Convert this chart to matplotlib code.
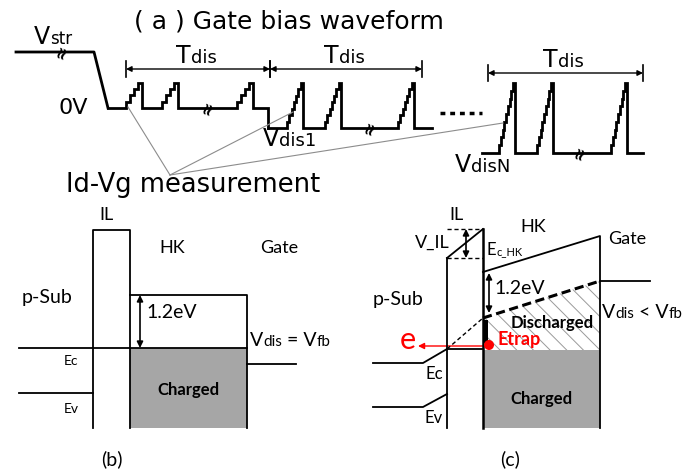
import numpy as np
import matplotlib.pyplot as plt
from matplotlib.patches import Polygon, Rectangle, FancyArrowPatch, Circle

# ---- waveform (a), pixel-space schematic units ----
stress_level = 52
peak_level = 83
group_levels = [108, 128, 153]          # 0V, Vdis1, VdisN
group_spans = [(108, 268), (268, 432), (482, 643)]
pulse_starts = [[126, 162, 237], [287, 325, 398], [499, 537, 611]]
ramp_steps = [4, 7, 9]
break_marks = [(62, 52), (208, 108), (370, 128), (580, 153)]
tdis_spans = [(126, 270, 69), (270, 422, 69), (488, 643, 73)]
meas_targets = [(128, 107), (293, 112), (503, 123)]

# ---- band diagrams (b), (c) ----
bottom = 428
b_il = (93, 130, 230)                   # left, right, top
b_hk = (130, 247, 295)
b_ec, b_ev, b_gate = 348, 393, 364
c_il = (447, 483)
c_il_top = (258, 229)                   # IL top edge left/right
c_hk_top = ((483, 272), (600, 236))
c_trap_line = ((483, 318), (600, 281))
c_ec = [(373, 363), (423, 363), (447, 349), (483, 349)]
c_ev = [(373, 407), (423, 407), (447, 394)]
c_charged_top = 350

KA = dict(family='DejaVu Sans', color='black')
KB = dict(family='Lato', color='black')

fig = plt.figure(figsize=(6.94, 4.69), dpi=100)
ax = fig.add_axes([0, 0, 1, 1])
ax.set_xlim(0, 694)
ax.set_ylim(469, 0)
ax.axis('off')


def chain(x, y, parts, **kw):
    # draws text pieces of different sizes one after another on a baseline
    prev = None
    for s, fs in parts:
        if prev is None:
            prev = ax.text(x, y, s, fontsize=fs, ha='left', va='baseline', **kw)
        else:
            prev = ax.annotate(s, xy=(1, y), xycoords=(prev, 'data'), fontsize=fs,
                               ha='left', va='baseline', **kw)
    return prev


def staircase(x0, y0, x1, y1, n):
    xs, ys = [x0], [y0]
    dx = (x1 - x0) / n
    dy = (y1 - y0) / n
    for i in range(n):
        xs += [x0 + dx * i, x0 + dx * (i + 1)]
        ys += [y0 + dy * (i + 1), y0 + dy * (i + 1)]
    return xs, ys


# ---------- (a) gate bias waveform ----------
ax.text(289, 22, '( a ) Gate bias waveform', fontsize=18, ha='center', va='center', **KA)

lw_a = 2.0
ax.plot([16, 94, 108], [stress_level, stress_level, group_levels[0]], color='black', lw=lw_a)
pw = 16
for gi, (lev, (xs, xe), starts, n) in enumerate(zip(group_levels, group_spans, pulse_starts, ramp_steps)):
    px, py = [xs], [lev]
    for s in starts:
        sx, sy = staircase(s, lev, s + pw, peak_level, n)
        px += sx
        py += sy
        px.append(s + pw)
        py.append(lev)
    px.append(xe)
    py.append(lev)
    if gi == 0:
        px += [xe]
        py += [group_levels[1]]
    ax.plot(px, py, color='black', lw=lw_a, solid_joinstyle='miter')

for bx, by in break_marks:
    ax.text(bx, by, '≈', fontsize=12, fontweight='bold', rotation=70,
            ha='center', va='center', **KA)

# continuation dots
ax.plot([440, 482], [113, 113], color='black', lw=2.5, linestyle=(0, (1.4, 1.4)))

for x0, x1, y in tdis_spans:
    ax.add_patch(FancyArrowPatch((x0, y), (x1, y), arrowstyle='<|-|>', mutation_scale=8,
                                 color='black', lw=1.0, shrinkA=0, shrinkB=0))
    for xx in (x0, x1):
        ax.plot([xx, xx], [y - 8, y + 8], color='black', lw=1.2)
    chain((x0 + x1) / 2 - 22, y - 6, [('T', 17), ('dis', 13)], **KA)

ax.text(73, 108, '0V', fontsize=16, ha='center', va='center', **KA)
chain(34, 44, [('V', 17), ('str', 12)], **KA)
chain(263, 146, [('V', 17), ('dis1', 13)], **KA)
chain(455, 172, [('V', 17), ('disN', 13)], **KA)

for tx, ty in meas_targets:
    ax.plot([170, tx], [175, ty], color='#8c8c8c', lw=0.8)
ax.text(193, 185, 'Id-Vg measurement', fontsize=18.5, ha='center', va='center', **KA)

# ---------- (b) charged state ----------
lw_b = 1.3
ax.add_patch(Rectangle((b_hk[0], b_ec), b_hk[1] - b_hk[0], bottom - b_ec,
                       facecolor='#a6a6a6', edgecolor='none'))
ax.plot([b_il[0], b_il[0], b_il[1], b_il[1]], [bottom, b_il[2], b_il[2], bottom], color='black', lw=lw_b)
ax.plot([b_hk[0], b_hk[1], b_hk[1]], [b_hk[2], b_hk[2], bottom], color='black', lw=lw_b)
ax.plot([19, b_hk[1]], [b_ec, b_ec], color='black', lw=lw_b)
ax.plot([19, b_il[0]], [b_ev, b_ev], color='black', lw=lw_b)
ax.plot([b_hk[1], 296], [b_gate, b_gate], color='black', lw=lw_b)
ax.add_patch(FancyArrowPatch((140, b_hk[2]), (140, b_ec), arrowstyle='<|-|>', mutation_scale=9,
                             color='black', lw=1.2, shrinkA=0, shrinkB=0))
ax.text(146, 313, '1.2eV', fontsize=14, ha='left', va='center', **KB)
ax.text(188, 390, 'Charged', fontsize=12, fontweight='bold', ha='center', va='center', **KB)
ax.text(107, 215, 'IL', fontsize=13, ha='center', va='center', **KB)
ax.text(172, 248, 'HK', fontsize=13, ha='center', va='center', **KB)
ax.text(279, 248, 'Gate', fontsize=13, ha='center', va='center', **KB)
ax.text(22, 297, 'p-Sub', fontsize=14, ha='left', va='center', **KB)
ax.text(71, 361, 'Ec', fontsize=10, ha='center', va='center', **KB)
ax.text(71, 409, 'Ev', fontsize=10, ha='center', va='center', **KB)
chain(250, 346, [('V', 14), ('dis', 11), (' = V', 14), ('fb', 11)], **KB)
ax.text(112, 459, '(b)', fontsize=14, ha='center', va='center', **KB)

# ---------- (c) discharging state ----------
hl, hr = c_il
ax.add_patch(Rectangle((hr, c_charged_top), c_hk_top[1][0] - hr, bottom - c_charged_top,
                       facecolor='#a6a6a6', edgecolor='none'))
plt.rcParams['hatch.linewidth'] = 0.7
ax.add_patch(Polygon([c_trap_line[0], c_trap_line[1], (c_trap_line[1][0], c_charged_top),
                      (hr, c_charged_top)], closed=True, facecolor='none',
                     edgecolor='#9a9a9a', lw=0, hatch='\\\\'))
ax.plot([hl, hl], [bottom, c_il_top[0]], color='black', lw=lw_b)
ax.plot([hl, hr], [c_il_top[0], c_il_top[1]], color='black', lw=lw_b)
ax.plot([hr, hr], [c_il_top[1], bottom], color='black', lw=1.8)
ax.plot([hl, hr], [c_il_top[1], c_il_top[1]], color='black', lw=1.0, ls=(0, (3, 2)))
ax.plot([hl, hr], [c_il_top[0], c_il_top[0]], color='black', lw=1.0, ls=(0, (3, 2)))
ax.add_patch(FancyArrowPatch((466, c_il_top[1]), (466, c_il_top[0]), arrowstyle='<|-|>',
                             mutation_scale=9, color='black', lw=1.2, shrinkA=0, shrinkB=0))
(x0, y0), (x1, y1) = c_hk_top
ax.plot([x0, x1, x1], [y0, y1, bottom], color='black', lw=lw_b)
ax.plot([x1, 650], [281, 281], color='black', lw=lw_b)
ax.plot([p[0] for p in c_ec[:3]], [p[1] for p in c_ec[:3]], color='black', lw=lw_b)
ax.plot([c_ec[2][0], c_ec[3][0]], [c_ec[2][1], c_ec[3][1]], color='black', lw=lw_b)
ax.plot([p[0] for p in c_ev], [p[1] for p in c_ev], color='black', lw=lw_b)
ax.plot([c_ec[2][0], c_trap_line[0][0]], [c_ec[2][1], c_trap_line[0][1]],
        color='black', lw=1.0, ls=(0, (3, 2)))
ax.plot([c_trap_line[0][0], c_trap_line[1][0]], [c_trap_line[0][1], c_trap_line[1][1]],
        color='black', lw=2.2, ls=(0, (3, 1.5)))
ax.add_patch(FancyArrowPatch((489, 273), (489, 313), arrowstyle='<|-|>', mutation_scale=9,
                             color='black', lw=1.2, shrinkA=0, shrinkB=0))
ax.add_patch(Rectangle((484, 320), 4, 23, facecolor='black', edgecolor='none'))
ax.add_patch(FancyArrowPatch((489, 346), (418, 346), arrowstyle='-|>', mutation_scale=9,
                             color='red', lw=1.0, shrinkA=0, shrinkB=0))
ax.add_patch(Circle((489, 345), 5, facecolor='red', edgecolor='none', zorder=5))
ax.text(408, 340, 'e', fontsize=22, color='red', family='Lato', ha='center', va='center')
ax.text(498, 340, 'Etrap', fontsize=13, fontweight='bold', color='red', family='Lato',
        ha='left', va='center')
ax.text(552, 323, 'Discharged', fontsize=12, fontweight='bold', ha='center', va='center', **KB)
ax.text(541, 399, 'Charged', fontsize=12, fontweight='bold', ha='center', va='center', **KB)
ax.text(457, 215, 'IL', fontsize=13, ha='center', va='center', **KB)
ax.text(533, 227, 'HK', fontsize=13, ha='center', va='center', **KB)
ax.text(627, 239, 'Gate', fontsize=13, ha='center', va='center', **KB)
ax.text(373, 299, 'p-Sub', fontsize=14, ha='left', va='center', **KB)
ax.text(432, 248, 'V_IL', fontsize=13, ha='center', va='baseline', **KB)
chain(487, 255, [('E', 12), ('c_HK', 8)], **KB)
ax.text(494, 289, '1.2eV', fontsize=14, ha='left', va='center', **KB)
ax.text(434, 374, 'Ec', fontsize=12, ha='center', va='center', **KB)
ax.text(434, 418, 'Ev', fontsize=12, ha='center', va='center', **KB)
chain(602, 318, [('V', 14), ('dis', 11), (' < V', 14), ('fb', 11)], **KB)
ax.text(510, 459, '(c)', fontsize=14, ha='center', va='center', **KB)

fig.savefig('out.png', dpi=100)
